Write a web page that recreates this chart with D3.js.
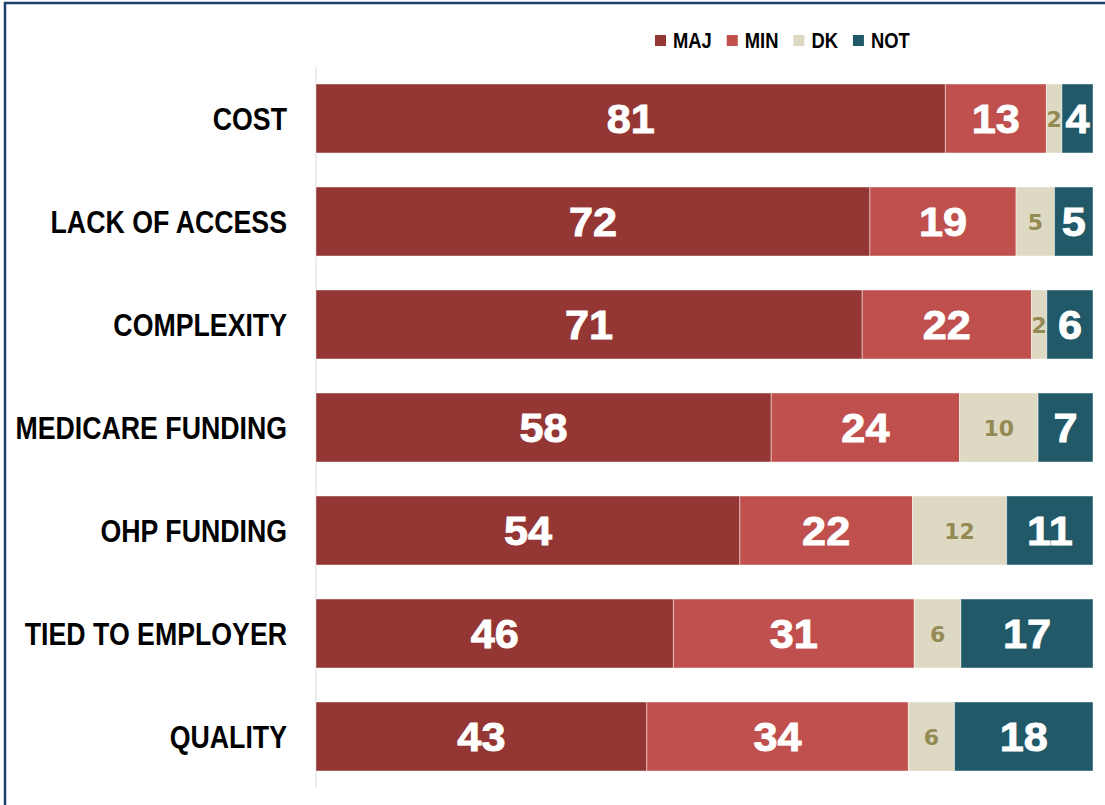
<!DOCTYPE html>
<html>
<head>
<meta charset="utf-8">
<script src="https://cdn.jsdelivr.net/npm/d3@7"></script>
<style>
  html, body { margin: 0; padding: 0; background: #fff; }
  svg { display: block; }
</style>
</head>
<body>
<svg id="chart" width="1105" height="805"></svg>
<script>
const categories = ["COST", "LACK OF ACCESS", "COMPLEXITY", "MEDICARE FUNDING", "OHP FUNDING", "TIED TO EMPLOYER", "QUALITY"];
const seriesKeys = ["MAJ", "MIN", "DK", "NOT"];
const majValues = [81, 72, 71, 58, 54, 46, 43];
const minValues = [13, 19, 22, 24, 22, 31, 34];
const dkValues  = [2, 5, 2, 10, 12, 6, 6];
const notValues = [4, 5, 6, 7, 11, 17, 18];
const seriesColors = ["#943634", "#C0504D", "#DDD9C3", "#215968"];
const labelColors = ["#ffffff", "#ffffff", "#948A54", "#ffffff"];

const rows = categories.map((c, i) => ({
  cat: c, MAJ: majValues[i], MIN: minValues[i], DK: dkValues[i], NOT: notValues[i]
}));

const svg = d3.select("#chart");
const NARROW = 0.835;

// frame
svg.append("rect")
  .attr("x", 5).attr("y", 3)
  .attr("width", 1110).attr("height", 815)
  .attr("fill", "none")
  .attr("stroke", "#1F3F6E")
  .attr("stroke-width", 2.5);

const stack = d3.stack().keys(seriesKeys).offset(d3.stackOffsetExpand);
const stacked = stack(rows);

const x = d3.scaleLinear().domain([0, 1]).range([316, 1093]);
const y = d3.scaleBand().domain(categories).range([67, 788])
  .paddingInner(0.33).paddingOuter(0.165);
const color = d3.scaleOrdinal().domain(seriesKeys).range(seriesColors);
const labelColor = d3.scaleOrdinal().domain(seriesKeys).range(labelColors);

// axis line
svg.append("line")
  .attr("x1", x(0)).attr("x2", x(0))
  .attr("y1", y.range()[0]).attr("y2", y.range()[1])
  .attr("stroke", "#D9D9D9").attr("stroke-width", 1);

const groups = svg.selectAll("g.series").data(stacked).enter()
  .append("g").attr("class", "series");

groups.selectAll("rect").data(s => s.map(d => ({ d, key: s.key }))).enter()
  .append("rect")
  .attr("x", o => x(o.d[0]))
  .attr("y", o => y(o.d.data.cat))
  .attr("width", o => x(o.d[1]) - x(o.d[0]))
  .attr("height", y.bandwidth())
  .attr("fill", o => color(o.key))
  .attr("stroke", "rgba(255,255,255,0.45)")
  .attr("stroke-width", 1);

groups.selectAll("text").data(s => s.map(d => ({ d, key: s.key }))).enter()
  .append("text")
  .attr("x", 0)
  .attr("y", 0)
  .attr("transform", o => {
    const cx = (x(o.d[0]) + x(o.d[1])) / 2;
    const cy = y(o.d.data.cat) + y.bandwidth() / 2 + (o.key === "DK" ? 8 : 14.5);
    return o.key === "DK" ? `translate(${cx},${cy})` : `translate(${cx},${cy}) scale(1.08,1)`;
  })
  .attr("text-anchor", "middle")
  .attr("font-family", o => o.key === "DK" ? "DejaVu Sans, sans-serif" : "Liberation Sans, Arial, sans-serif")
  .attr("font-weight", "bold")
  .attr("font-size", o => o.key === "DK" ? 22 : 40)
  .attr("fill", o => labelColor(o.key))
  .attr("stroke", o => o.key === "DK" ? "none" : labelColor(o.key))
  .attr("stroke-width", 0.9)
  .text(o => o.d.data[o.key]);

// category labels
const yAxis = d3.axisLeft(y).tickSize(0).tickPadding(0);
const ga = svg.append("g").attr("transform", "translate(287,0)").call(yAxis);
ga.select(".domain").remove();
ga.selectAll("text")
  .attr("x", 0)
  .attr("font-family", "Liberation Sans, Arial, sans-serif")
  .attr("font-weight", "bold")
  .attr("font-size", 32)
  .attr("fill", "#000")
  .attr("dy", "0.36em")
  .attr("transform", `scale(${NARROW},1)`);

// legend
const legend = svg.append("g");
let lx = 655;
seriesKeys.forEach((k, i) => {
  legend.append("rect")
    .attr("x", lx).attr("y", 35)
    .attr("width", 11).attr("height", 11)
    .attr("fill", seriesColors[i]);
  const tx = lx + 18;
  const t = legend.append("text")
    .attr("x", 0).attr("y", 48)
    .attr("transform", `translate(${tx},0) scale(${NARROW},1)`)
    .attr("font-family", "Liberation Sans, Arial, sans-serif")
    .attr("font-weight", "bold")
    .attr("font-size", 22)
    .attr("fill", "#000")
    .text(k);
  const w = t.node().getComputedTextLength() * NARROW;
  lx = tx + w + 15;
});
</script>
</body>
</html>
